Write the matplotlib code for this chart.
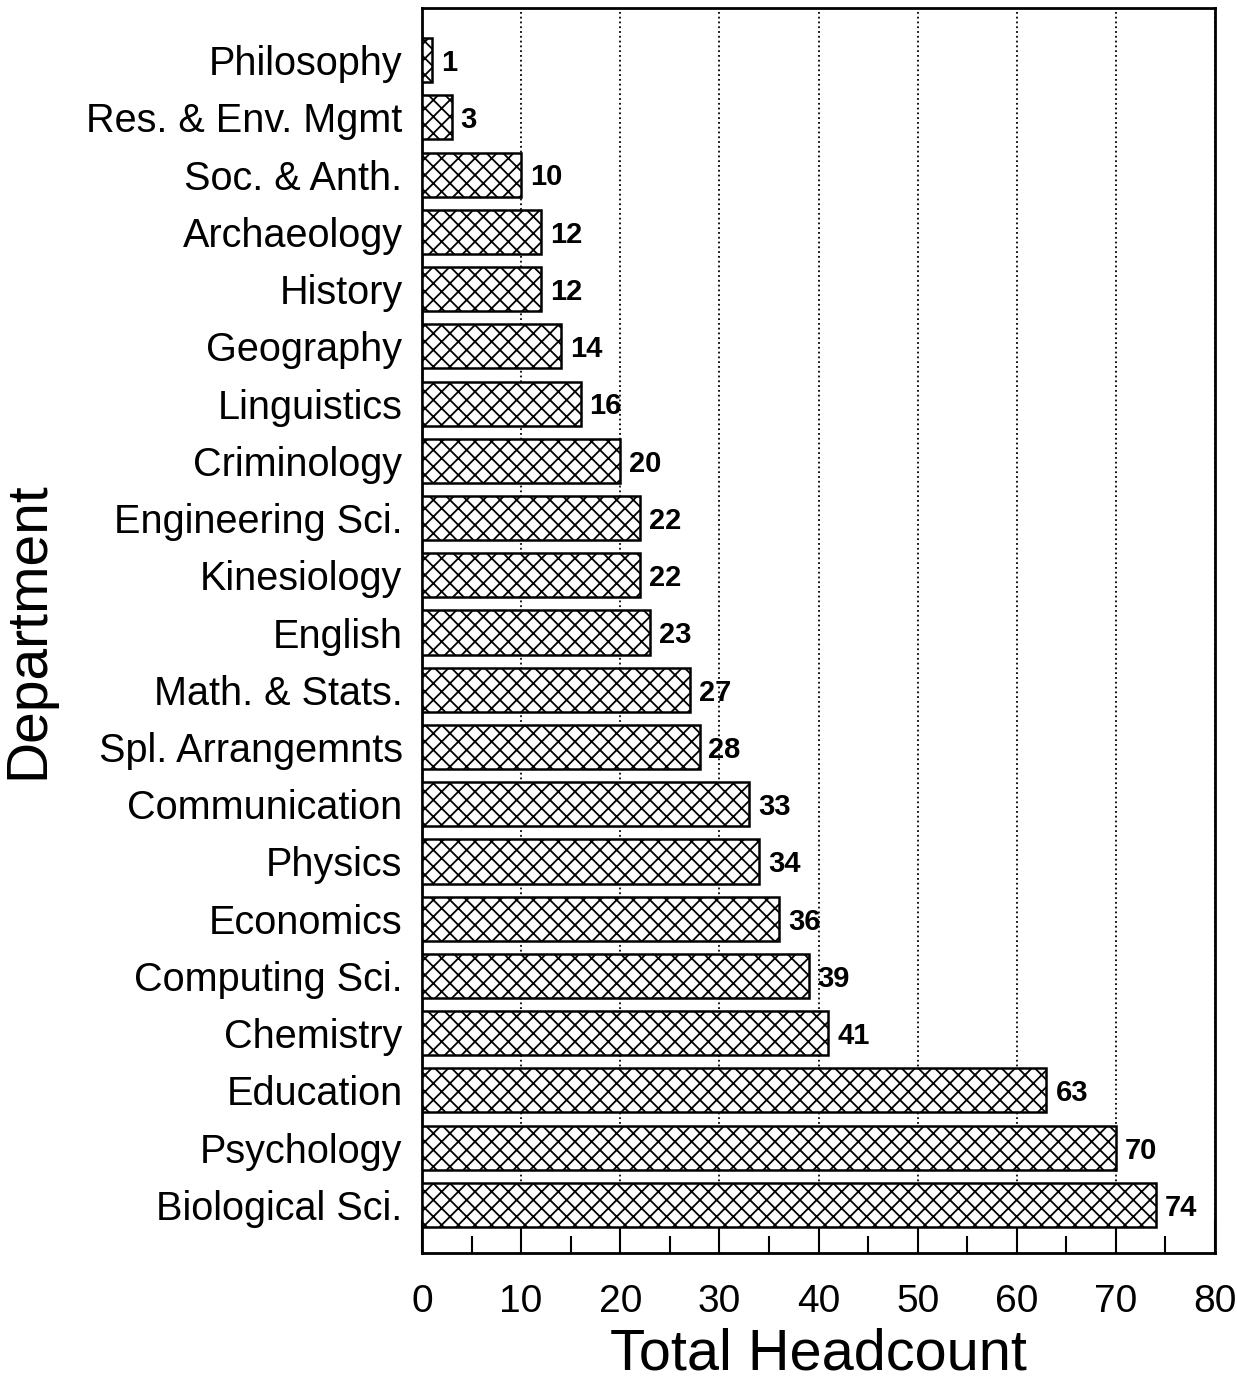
import numpy as np
import matplotlib.pyplot as plt
from matplotlib.ticker import MultipleLocator

departments = ['Philosophy', 'Res. & Env. Mgmt', 'Soc. & Anth.', 'Archaeology',
               'History', 'Geography', 'Linguistics', 'Criminology',
               'Engineering Sci.', 'Kinesiology', 'English', 'Math. & Stats.',
               'Spl. Arrangemnts', 'Communication', 'Physics', 'Economics',
               'Computing Sci.', 'Chemistry', 'Education', 'Psychology',
               'Biological Sci.']
headcount = [1, 3, 10, 12, 12, 14, 16, 20, 22, 22, 23, 27, 28, 33, 34, 36,
             39, 41, 63, 70, 74]

plt.rcParams['font.family'] = ['Liberation Sans', 'DejaVu Sans']
plt.rcParams['hatch.linewidth'] = 1.3

fig = plt.figure(figsize=(12.37, 13.84), dpi=100)
ax = fig.add_axes([422 / 1237, 1 - 1253 / 1384, (1215 - 422) / 1237, (1253 - 8) / 1384])

y = np.arange(len(departments))
ax.barh(y, headcount, height=0.77, color='white', edgecolor='black',
        linewidth=1.8, hatch='xx', zorder=3)

for yi, v in zip(y, headcount):
    ax.text(v + 0.9, yi + 0.05, str(v), va='center', ha='left', fontsize=21,
            fontweight='bold')

ax.set_ylim(20.84, -0.91)
ax.set_xlim(0, 80)
ax.set_yticks(y)
ax.set_yticklabels(departments, fontsize=28.5)
ax.tick_params(axis='y', length=0, pad=14)

ax.xaxis.set_major_locator(MultipleLocator(10))
ax.xaxis.set_minor_locator(MultipleLocator(5))
ax.tick_params(axis='x', which='major', direction='in', length=24, width=1.5,
               labelsize=28, pad=22)
ax.tick_params(axis='x', which='minor', direction='in', length=12, width=1.5)

ax.grid(axis='x', which='major', linestyle=':', color='black', linewidth=1.3, zorder=0)
for s in ax.spines.values():
    s.set_linewidth(2)

ax.set_xlabel('Total Headcount', fontsize=41.5, labelpad=6)
ax.set_ylabel('Department', fontsize=41, labelpad=22)

fig.savefig('out.png', dpi=100)
